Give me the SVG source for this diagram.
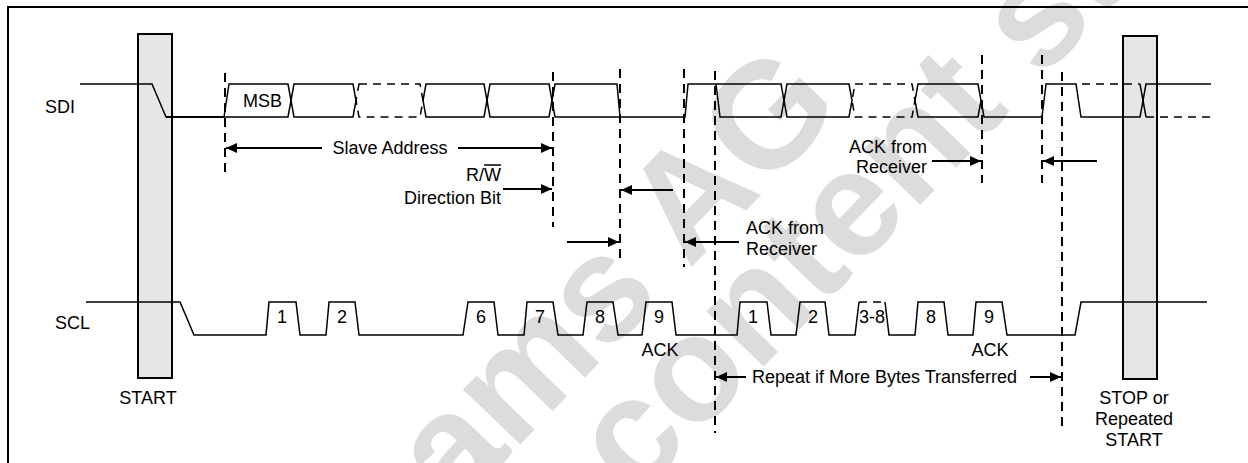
<svg xmlns="http://www.w3.org/2000/svg" width="1248" height="463" viewBox="0 0 1248 463">
<style>
text{font-family:"Liberation Sans",Arial,sans-serif;font-size:18px;fill:#000}
.wm{font-family:"Liberation Sans",Arial,sans-serif;font-weight:bold;font-size:150px;fill:#dcdcdc}
.w{fill:none;stroke:#000;stroke-width:1.5;stroke-linejoin:miter}
.lo{stroke-width:2}
.dash{stroke-dasharray:8 6}
.mark{fill:none;stroke:#000;stroke-width:2;stroke-dasharray:9 6}
.arr{stroke:#000;stroke-width:2;fill:none;marker-end:url(#ah)}
.bar{fill:#e6e6e6;stroke:#000;stroke-width:2}
.c{text-anchor:middle}
.r{text-anchor:end}
</style>
<defs>
<marker id="ah" markerUnits="userSpaceOnUse" markerWidth="12" markerHeight="10" refX="11" refY="5" orient="auto">
<path d="M0,0 L11,5 L0,10 Z" fill="#000"/>
</marker>
</defs>
<rect width="1248" height="463" fill="#fff"/>
<g id="watermark">
<text class="wm" transform="translate(455,512) rotate(-46)">ams AG</text>
<text class="wm" transform="translate(635,500) rotate(-46)">content still</text>
</g>
<rect id="frame" x="8" y="7" width="1260" height="480" fill="none" stroke="#000" stroke-width="2"/>
<g id="start">
<rect class="bar" x="138" y="34" width="34" height="344"/>
<text class="c" x="148" y="404">START</text>
</g>
<g id="stop">
<rect class="bar" x="1123" y="36" width="34" height="343"/>
<text class="c" x="1134" y="404">STOP or</text>
<text class="c" x="1134" y="425">Repeated</text>
<text class="c" x="1134" y="446">START</text>
</g>
<g id="sdi">
<text x="45" y="113">SDI</text>
<path class="w" d="M80,84 H152 L166,117"/>
<path class="w lo" d="M166,117 H224"/>
<path class="w" d="M224,117 H288 L291,100.5 L288,84 H229 L224,117"/>
<text x="243" y="107">MSB</text>
<polygon class="w" points="294,84 353,84 356,100.5 353,117 294,117 291,100.5"/>
<polygon class="w dash" points="359,84 420,84 423,100.5 420,117 359,117 356,100.5"/>
<polygon class="w" points="426,84 484,84 487,100.5 484,117 426,117 423,100.5"/>
<polygon class="w" points="490,84 549,84 552,100.5 549,117 490,117 487,100.5"/>
<path class="w" d="M555,117 L552,100.5 L555,84 H617 L620,117"/>
<path class="w" d="M555,117 H685 L688,84 H781 L784,100.5 L781,117 H720 L716,84"/>
<polygon class="w" points="787,84 849,84 852,100.5 849,117 787,117 784,100.5"/>
<polygon class="w dash" points="855,84 912,84 915,100.5 912,117 855,117 852,100.5"/>
<polygon class="w" points="918,84 978,84 981,100.5 978,117 918,117 915,100.5"/>
<path class="w" d="M981,100.5 L984,117 H1042 L1046,84 H1076 L1081,117 H1140 L1146,84 H1211"/>
<path class="w" d="M1140,84 L1146,117"/>
<path class="w dash" d="M1082,84 H1140 M1146,117 H1211"/>
</g>
<g id="scl">
<text x="55" y="329">SCL</text>
<path class="w" d="M86,302 H180 L194,335 H266 L269,302 H296 L300,335 H326 L329,302 H355 L359,335 H463 L468,302 H494 L498,335 H524 L527,302 H553 L558,335 H583 L587,302 H613 L618,335 H642 L646,302 H672 L676,335 H737 L740,302 H767 L771,335 H796 L800,302 H825 L829,335 H855 L859,302"/>
<path class="w dash" d="M859,302 H885"/>
<path class="w" d="M885,302 L889,335 H915 L918,302 H944 L948,335 H973 L976,302 H1002 L1007,335 H1075 L1081,302 H1207"/>
<text class="c" x="282" y="323">1</text>
<text class="c" x="342" y="323">2</text>
<text class="c" x="481" y="323">6</text>
<text class="c" x="540" y="323">7</text>
<text class="c" x="600" y="323">8</text>
<text class="c" x="659" y="323">9</text>
<text class="c" x="753" y="323">1</text>
<text class="c" x="813" y="323">2</text>
<text class="c" x="872" y="323">3-8</text>
<text class="c" x="931" y="323">8</text>
<text class="c" x="989" y="323">9</text>
<text class="c" x="660" y="356">ACK</text>
<text class="c" x="990" y="356">ACK</text>
</g>
<g id="connectors">
<path class="mark" d="M225,73 V175 M553,72 V227 M620,69 V262 M684,69 V267 M715,71 V433 M982,55 V183 M1042,55 V183 M1062,72 V432"/>
<line class="arr" x1="322" y1="148" x2="226" y2="148"/>
<line class="arr" x1="458" y1="148" x2="552" y2="148"/>
<line class="arr" x1="503" y1="189" x2="552" y2="189"/>
<line class="arr" x1="673" y1="190" x2="621" y2="190"/>
<line class="arr" x1="567" y1="242" x2="619" y2="242"/>
<line class="arr" x1="739" y1="242" x2="685" y2="242"/>
<line class="arr" x1="932" y1="161" x2="981" y2="161"/>
<line class="arr" x1="1097" y1="161" x2="1043" y2="161"/>
<line class="arr" x1="746" y1="377" x2="716" y2="377"/>
<line class="arr" x1="1030" y1="377" x2="1061" y2="377"/>
</g>
<g id="labels">
<text class="c" x="390" y="154">Slave Address</text>
<text class="r" x="501" y="181">R/W</text>
<line x1="484" y1="165" x2="501" y2="165" stroke="#000" stroke-width="1.5"/>
<text class="r" x="501" y="204">Direction Bit</text>
<text x="746" y="234">ACK from</text>
<text x="746" y="255">Receiver</text>
<text class="r" x="927" y="153">ACK from</text>
<text class="r" x="927" y="173">Receiver</text>
<text x="752" y="383">Repeat if More Bytes Transferred</text>
</g>
</svg>
